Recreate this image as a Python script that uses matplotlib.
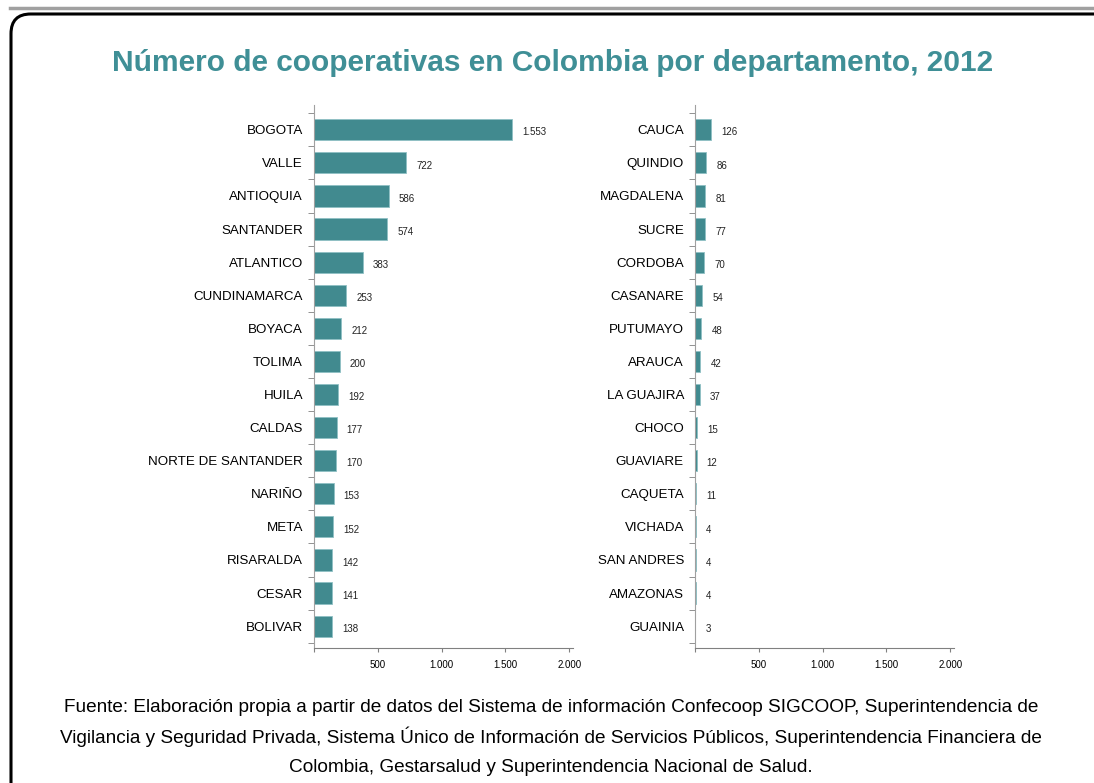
import matplotlib
matplotlib.use("Agg")
import matplotlib.pyplot as plt
from matplotlib.patches import FancyBboxPatch
from matplotlib.lines import Line2D

left_deps = ["BOGOTA", "VALLE", "ANTIOQUIA", "SANTANDER", "ATLANTICO", "CUNDINAMARCA",
             "BOYACA", "TOLIMA", "HUILA", "CALDAS", "NORTE DE SANTANDER", "NARIÑO",
             "META", "RISARALDA", "CESAR", "BOLIVAR"]
left_vals = [1553, 722, 586, 574, 383, 253, 212, 200, 192, 177, 170, 153, 152, 142, 141, 138]

right_deps = ["CAUCA", "QUINDIO", "MAGDALENA", "SUCRE", "CORDOBA", "CASANARE", "PUTUMAYO",
              "ARAUCA", "LA GUAJIRA", "CHOCO", "GUAVIARE", "CAQUETA", "VICHADA",
              "SAN ANDRES", "AMAZONAS", "GUAINIA"]
right_vals = [126, 86, 81, 77, 70, 54, 48, 42, 37, 15, 12, 11, 4, 4, 4, 3]

x_ticks = [500, 1000, 1500, 2000]
x_ticklabels = ["500", "1.000", "1.500", "2.000"]

title = "Número de cooperativas en Colombia por departamento, 2012"
source_lines = [
    "Fuente: Elaboración propia a partir de datos del Sistema de información Confecoop SIGCOOP, Superintendencia de",
    "Vigilancia y Seguridad Privada, Sistema Único de Información de Servicios Públicos, Superintendencia Financiera de",
    "Colombia, Gestarsalud y Superintendencia Nacional de Salud.",
]

plt.rcParams['font.family'] = ["Liberation Sans", "DejaVu Sans"]

W, H = 1094, 783
fig = plt.figure(figsize=(W / 100, H / 100), dpi=100)

BAR = "#418a8f"
TEAL = "#3f8f96"

# frame
fig.add_artist(Line2D([10 / W, 1.0], [1 - 8 / H, 1 - 8 / H], transform=fig.transFigure,
                      color="#a0a0a0", lw=2.5))
box = FancyBboxPatch((11 / W, -0.1), 1.2, 1 - 14 / H + 0.1,
                     boxstyle="round,pad=0,rounding_size=0.018",
                     transform=fig.transFigure, fill=False, ec="black", lw=2.2,
                     mutation_aspect=W / H)
fig.add_artist(box)

fig.text(553 / W, 1 - 63 / H, title, ha="center", va="center", fontsize=21.5, fontweight="bold",
         color=TEAL)


def draw(ax, deps, vals):
    n = len(deps)
    y = list(range(n))
    ax.barh(y, vals, height=0.64, color=BAR, edgecolor="#8fc0c4", linewidth=0.6)
    ax.set_ylim(n - 1 + 0.66, -0.75)
    ax.set_xlim(0, 2030)
    ax.set_yticks(y)
    ax.set_yticklabels(deps, fontsize=9.6)
    ax.set_yticks([k + 0.5 for k in range(-1, n)], minor=True)
    ax.tick_params(axis="y", which="major", length=0, pad=8)
    ax.tick_params(axis="y", which="minor", length=4, color="#808080", direction="out")
    ax.set_xticks([0] + x_ticks)
    ax.set_xticklabels([""] + x_ticklabels, fontsize=7)
    ax.tick_params(axis="x", length=3, color="#808080", pad=6)
    for s in ["top", "right"]:
        ax.spines[s].set_visible(False)
    ax.spines["left"].set_color("#a0a0a0")
    ax.spines["bottom"].set_color("#808080")
    for yi, v in zip(y, vals):
        ax.text(v + 80, yi + 0.08, f"{v:,}".replace(",", "."), va="center", ha="left",
                fontsize=7, color="#222222")


axL = fig.add_axes([314 / W, 1 - 648 / H, 259 / W, (648 - 105) / H])
draw(axL, left_deps, left_vals)
axR = fig.add_axes([695 / W, 1 - 648 / H, 259 / W, (648 - 105) / H])
draw(axR, right_deps, right_vals)

for line, ypx in zip(source_lines, [705, 735, 766]):
    fig.text(551 / W, 1 - ypx / H, line, ha="center", va="center_baseline", fontsize=13.7,
             color="black")

fig.savefig("out.png", dpi=100)
